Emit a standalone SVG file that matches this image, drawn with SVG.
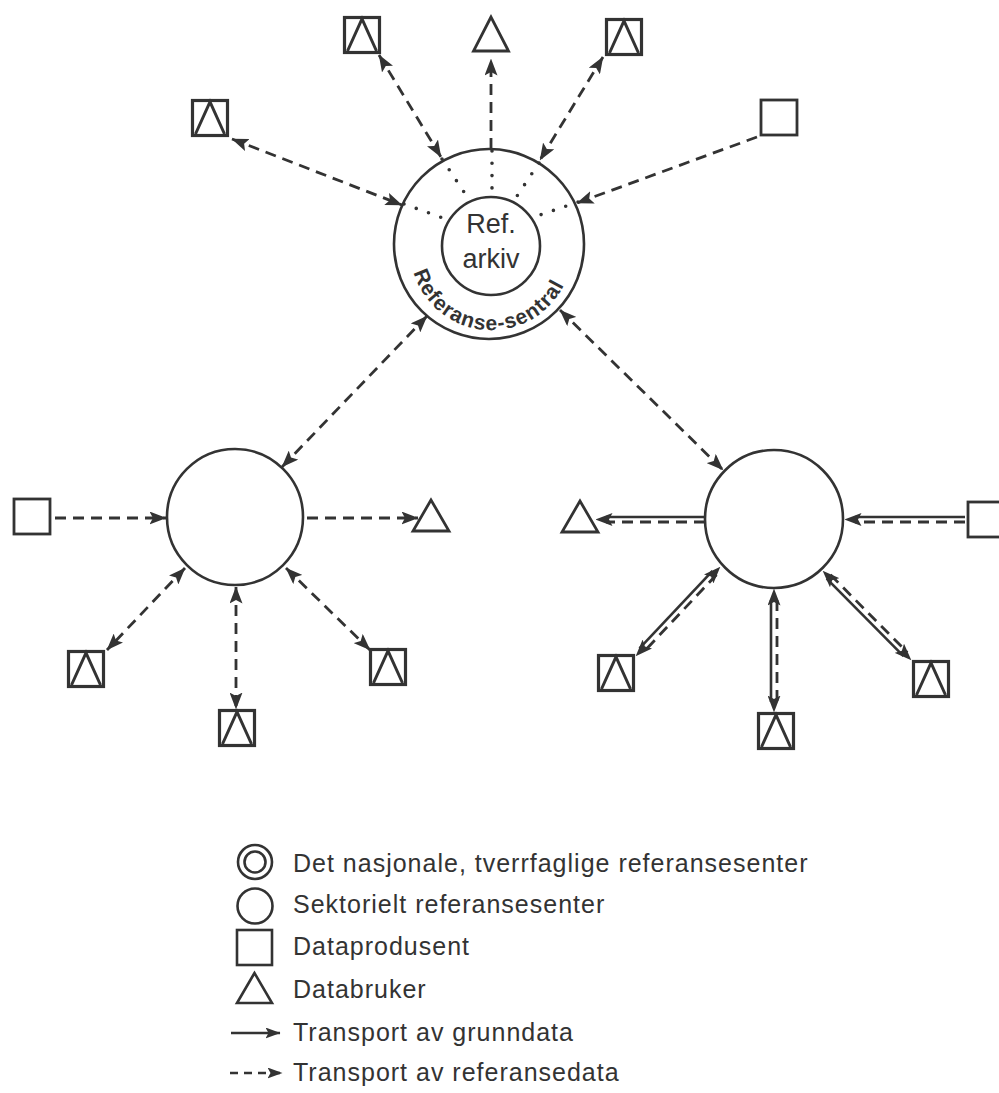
<svg xmlns="http://www.w3.org/2000/svg" width="999" height="1093" viewBox="0 0 999 1093">
<style>
.s{fill:none;stroke:#333;stroke-width:2.6}
.d{fill:none;stroke:#333;stroke-width:2.8;stroke-dasharray:11 7}
.dot{fill:none;stroke:#333;stroke-width:3.6;stroke-linecap:round}
.node{fill:#fff;stroke:#333;stroke-width:2.8}
.c{fill:none;stroke:#333;stroke-width:2.6}
.bi{marker-start:url(#ah);marker-end:url(#ah)}
.uni{marker-end:url(#ah)}
.mk{fill:none;stroke:none}
.t{font-family:"Liberation Sans",Arial,sans-serif;fill:#333}
.lg{font-size:25px;letter-spacing:1px}
</style>
<defs>
<marker id="ah" viewBox="0 0 17 13" markerWidth="17" markerHeight="13" refX="16.5" refY="6.5" orient="auto-start-reverse" markerUnits="userSpaceOnUse">
<path d="M0,0 L17,6.5 L0,13 L3.5,6.5 Z" fill="#333"/>
</marker>
<marker id="ahs" viewBox="0 0 15 11" markerWidth="15" markerHeight="11" refX="14.5" refY="5.5" orient="auto" markerUnits="userSpaceOnUse">
<path d="M0,0 L15,5.5 L0,11 L3,5.5 Z" fill="#333"/>
</marker>
<g id="sqtri">
<rect x="1.5" y="1.5" width="35" height="35" fill="#fff" stroke="#333" stroke-width="3.2"/>
<polyline points="4.5,35 19,3 33.5,35" fill="none" stroke="#333" stroke-width="3" stroke-linejoin="miter"/>
</g>
<path id="arc" d="M410.8,258.5 A81,81 0 0 0 569.3,271.0"/>
</defs>
<rect width="999" height="1093" fill="#fff"/>

<g id="connectors">
<path class="d bi" d="M232,139 L402,205"/>
<path class="d bi" d="M379,55 L441,157"/>
<path class="d uni" d="M491,149 L491,59"/>
<path class="d bi" d="M603,57 L540,160"/>
<path class="d uni" d="M757,137 L577,203"/>
<path class="d bi" d="M427,316 L282,467"/>
<path class="d bi" d="M560,310 L723,470"/>
<path class="dot" stroke-dasharray="0 13" d="M442,159 L468,198"/>
<path class="dot" stroke-dasharray="0 13" d="M404,204 L443,218"/>
<path class="dot" stroke-dasharray="0 12.3" d="M492,151 L492,188"/>
<path class="dot" stroke-dasharray="0 13" d="M539,163 L517,196"/>
<path class="dot" stroke-dasharray="0 13" d="M578,202 L540,215"/>
<path class="d uni" d="M55,518 L166,518"/>
<path class="d uni" d="M307,518 L418,518"/>
<path class="d bi" d="M185,568 L107,650"/>
<path class="d bi" d="M236,587 L236,709"/>
<path class="d bi" d="M286,568 L370,650"/>
<path class="s" d="M705,517 L606,517"/>
<path class="d" d="M705,522 L606,522"/>
<path class="mk uni" d="M705,519.5 L596,519.5"/>
<path class="s" d="M965,517 L855,517"/>
<path class="d" d="M965,522 L855,522"/>
<path class="mk uni" d="M965,519.5 L845,519.5"/>
<path class="s" d="M712.5,570.9 L639.5,648.3"/>
<path class="d" d="M716.5,574.7 L643.5,652.1"/>
<path class="mk bi" d="M720,567 L636,656"/>
<path class="s" d="M771,600 L771,702"/>
<path class="d" d="M777,600 L777,702"/>
<path class="mk bi" d="M774,589 L774,712"/>
<path class="s" d="M826.7,578.6 L903.5,656.2"/>
<path class="d" d="M830.5,574.8 L907.3,652.4"/>
<path class="mk bi" d="M823,571 L911,660"/>
</g>

<g id="central">
<circle class="c" cx="489" cy="244" r="95"/>
<circle class="c" cx="491" cy="246" r="49"/>
<text class="t" x="491" y="233" font-size="27" text-anchor="middle">Ref.</text>
<text class="t" x="491" y="268" font-size="27" text-anchor="middle">arkiv</text>
<text class="t" font-size="21" font-weight="bold" letter-spacing="1"><textPath href="#arc" startOffset="50%" text-anchor="middle">Referanse-sentral</textPath></text>
</g>

<g id="top-user-producer-1"><use href="#sqtri" x="191" y="99"/></g>
<g id="top-user-producer-2"><use href="#sqtri" x="343" y="16"/></g>
<g id="top-user"><polygon class="node" points="491,17 473.5,51 508.5,51"/></g>
<g id="top-user-producer-3"><use href="#sqtri" x="605" y="18"/></g>
<g id="top-producer"><rect class="node" x="761" y="100" width="36" height="35"/></g>

<g id="sector-left"><circle class="c" cx="235" cy="517" r="68"/></g>
<g id="left-producer"><rect class="node" x="14" y="499" width="36" height="35"/></g>
<g id="left-user"><polygon class="node" points="431,500 413,531 449,531"/></g>
<g id="left-up-1"><use href="#sqtri" x="67" y="650"/></g>
<g id="left-up-2"><use href="#sqtri" x="218" y="709"/></g>
<g id="left-up-3"><use href="#sqtri" x="369" y="648"/></g>

<g id="sector-right"><circle class="c" cx="774" cy="519" r="69"/></g>
<g id="right-user"><polygon class="node" points="580,501 562,532 598,532"/></g>
<g id="right-producer"><rect class="node" x="968" y="502" width="36" height="35"/></g>
<g id="right-up-1"><use href="#sqtri" x="597" y="654"/></g>
<g id="right-up-2"><use href="#sqtri" x="757" y="712"/></g>
<g id="right-up-3"><use href="#sqtri" x="912" y="660"/></g>

<g id="legend">
<circle class="c" cx="255" cy="862" r="17"/>
<circle class="c" cx="255" cy="862" r="10.5"/>
<text class="t lg" x="293" y="872">Det nasjonale, tverrfaglige referansesenter</text>
<circle class="c" cx="255" cy="906" r="17.5"/>
<text class="t lg" x="293" y="913">Sektorielt referansesenter</text>
<rect class="c" x="237" y="930" width="35" height="35"/>
<text class="t lg" x="293" y="955">Dataprodusent</text>
<polygon class="c" points="254.5,973 237,1003 272,1003"/>
<text class="t lg" x="293" y="998">Databruker</text>
<path class="s" style="marker-end:url(#ahs)" d="M231,1033 L280,1033"/>
<text class="t lg" x="293" y="1041">Transport av grunndata</text>
<path class="s" style="marker-end:url(#ahs)" stroke-dasharray="8 6" d="M230,1073 L282,1073"/>
<text class="t lg" x="293" y="1081">Transport av referansedata</text>
</g>
</svg>
